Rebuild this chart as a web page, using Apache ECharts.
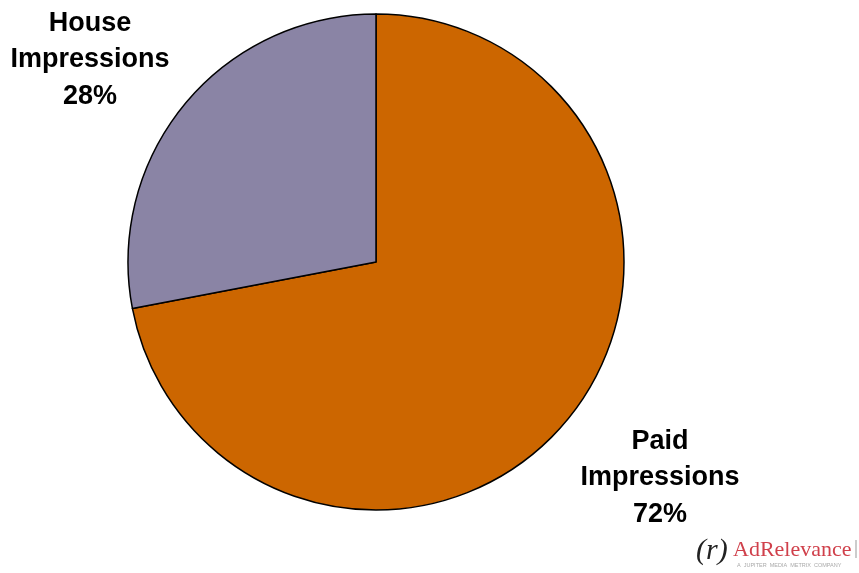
<!DOCTYPE html>
<html>
<head>
<meta charset="utf-8">
<script src="https://cdn.jsdelivr.net/npm/echarts@6/dist/echarts.min.js"></script>
<style>
  html, body { margin: 0; padding: 0; background: #fff; }
  #chart { width: 859px; height: 573px; }
</style>
</head>
<body>
<div id="chart"></div>
<script>
// Impression share by type
const categories = ['Paid Impressions', 'House Impressions'];
const shares = [72, 28];
const colors = ['#CC6600', '#8A84A5'];
// label anchor points (centre of each text block)
const labelSpots = [[660, 478], [90, 60]];

const chart = echarts.init(document.getElementById('chart'), null, { renderer: 'canvas' });

chart.setOption({
  backgroundColor: '#ffffff',
  animation: false,
  series: [{
    type: 'pie',
    center: [376, 262],
    radius: 248,
    startAngle: 90,
    clockwise: true,
    silent: true,
    data: categories.map((name, i) => ({
      name: name,
      value: shares[i],
      itemStyle: { color: colors[i] }
    })),
    itemStyle: { borderColor: '#000', borderWidth: 1.5 },
    label: {
      show: true,
      position: 'outside',
      overflow: 'none',
      formatter: p => p.name.replace(' ', '\n') + '\n' + Math.round(p.percent) + '%',
      fontFamily: 'Liberation Sans, Arial, sans-serif',
      fontWeight: 'bold',
      fontSize: 27,
      lineHeight: 36.5,
      color: '#000',
      align: 'center'
    },
    labelLine: { show: false },
    labelLayout: p => ({
      x: labelSpots[p.dataIndex][0],
      y: labelSpots[p.dataIndex][1],
      align: 'center',
      verticalAlign: 'middle'
    })
  }],
  graphic: [
    {
      type: 'text', left: 696, top: 536,
      style: { text: '(r)', font: 'italic 30px "Liberation Serif", serif', fill: '#222' }
    },
    {
      type: 'text', left: 733, top: 539,
      style: { text: 'AdRelevance', font: '22px "Liberation Serif", serif', fill: '#D0404B' }
    },
    {
      type: 'text', left: 737, top: 562,
      style: { text: 'A  JUPITER  MEDIA  METRIX  COMPANY', font: '5.5px "Liberation Sans", sans-serif', fill: '#aaa' }
    },
    {
      type: 'line', shape: { x1: 856, y1: 540, x2: 856, y2: 558 },
      style: { stroke: '#999', lineWidth: 1 }
    }
  ]
});
</script>
</body>
</html>
